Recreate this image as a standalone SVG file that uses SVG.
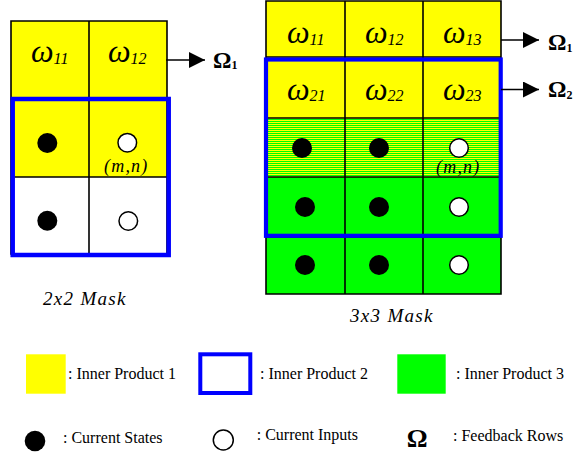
<svg xmlns="http://www.w3.org/2000/svg" width="581" height="457" viewBox="0 0 581 457">
<style>
.y{fill:#ffff00}
.g{fill:#00ff00}
.w{fill:#ffffff}
.gl{stroke:#000;stroke-width:1.6;fill:none}
.bl{stroke:#0000ff;fill:none}
.dot{fill:#000}
.in{fill:#fff;stroke:#000;stroke-width:1.5}
.om{font-family:"Liberation Serif","Times New Roman",serif;font-style:italic;font-size:32px;fill:#000}
.sub{font-family:"Liberation Serif","Times New Roman",serif;font-style:italic;font-size:16px}
.mn{font-family:"Liberation Serif","Times New Roman",serif;font-style:italic;font-size:18px;fill:#000;letter-spacing:1.2px}
.cap{font-family:"Liberation Serif","Times New Roman",serif;font-style:italic;font-size:19px;fill:#000;letter-spacing:1.3px}
.OM{font-family:"Liberation Serif","Times New Roman",serif;font-weight:bold;font-size:23px;fill:#000}
.OMs{font-size:12px}
.lg{font-family:"Liberation Serif","Times New Roman",serif;font-size:16px;fill:#000}
.arr{stroke:#000;stroke-width:1.5;fill:none}
.stripe{stroke:#00ff00;stroke-width:1;fill:none}
</style>
<defs>
<marker id="ah" markerUnits="userSpaceOnUse" markerWidth="18" markerHeight="18" refX="16" refY="8" orient="auto">
<path d="M0,0 L16,8 L0,16 Z" fill="#000"/>
</marker>
</defs>

<g id="mask2x2">
<rect class="y" x="11" y="21" width="156" height="156"/>
<rect class="w" x="11" y="177" width="156" height="77"/>
<path class="gl" d="M11,21 H167 V254 H11 Z M89,21 V254 M11,98 H167 M11,177 H167"/>
<text class="om" x="31" y="62">ω<tspan class="sub" dy="1.5">11</tspan></text>
<text class="om" x="108" y="62">ω<tspan class="sub" dy="1.5">12</tspan></text>
<circle class="dot" cx="47.3" cy="143" r="10"/>
<circle class="in" cx="127.3" cy="142.7" r="9.3"/>
<text class="mn" x="104" y="171.5">(m,n)</text>
<circle class="dot" cx="47.3" cy="220.7" r="10"/>
<circle class="in" cx="128.3" cy="221" r="9.3"/>
<rect class="bl" x="12.7" y="99" width="156" height="156" stroke-width="4.5"/>
<text class="cap" x="43" y="305">2x2 Mask</text>
</g>

<g id="mask3x3">
<rect class="y" x="266" y="1" width="235" height="176"/>
<path class="stripe" d="M266,119.5h235M266,121.5h235M266,123.5h235M266,125.5h235M266,127.5h235M266,129.5h235M266,131.5h235M266,133.5h235M266,135.5h235M266,137.5h235M266,139.5h235M266,141.5h235M266,143.5h235M266,145.5h235M266,147.5h235M266,149.5h235M266,151.5h235M266,153.5h235M266,155.5h235M266,157.5h235M266,159.5h235M266,161.5h235M266,163.5h235M266,165.5h235M266,167.5h235M266,169.5h235M266,171.5h235M266,173.5h235M266,175.5h235"/>
<rect class="g" x="266" y="177" width="235" height="117"/>
<path class="gl" d="M266,1 H501 V294 H266 Z M345,1 V294 M423,1 V294 M266,57 H501 M266,237 H501"/>
<path class="gl" stroke-width="2.2" d="M266,118 H501 M266,177 H501"/>
<text class="om" x="287" y="43">ω<tspan class="sub" dy="1.5">11</tspan></text>
<text class="om" x="365" y="43">ω<tspan class="sub" dy="1.5">12</tspan></text>
<text class="om" x="443" y="43">ω<tspan class="sub" dy="1.5">13</tspan></text>
<text class="om" x="287" y="99.5">ω<tspan class="sub" dy="1.5">21</tspan></text>
<text class="om" x="365" y="99.5">ω<tspan class="sub" dy="1.5">22</tspan></text>
<text class="om" x="443" y="99.5">ω<tspan class="sub" dy="1.5">23</tspan></text>
<circle class="dot" cx="302" cy="148" r="10"/>
<circle class="dot" cx="379" cy="148" r="10"/>
<circle class="in" cx="459" cy="148" r="9.3"/>
<text class="mn" x="436" y="172.5" fill="#1a2a1a">(m,n)</text>
<circle class="dot" cx="305" cy="207" r="10"/>
<circle class="dot" cx="379" cy="207" r="10"/>
<circle class="in" cx="459" cy="207" r="9.3"/>
<circle class="dot" cx="305" cy="265" r="10"/>
<circle class="dot" cx="379" cy="265" r="10"/>
<circle class="in" cx="459" cy="265" r="9.3"/>
<rect class="bl" x="266" y="59.5" width="234.7" height="176.3" stroke-width="4.2"/>
<text class="cap" x="350" y="322">3x3 Mask</text>
</g>

<g id="omega-labels">
<text class="OM" x="213" y="68">Ω<tspan class="OMs" dy="1">1</tspan></text>
<text class="OM" x="548" y="50">Ω<tspan class="OMs" dy="1.5">1</tspan></text>
<text class="OM" x="548" y="97">Ω<tspan class="OMs" dy="1.5">2</tspan></text>
</g>

<g id="connectors">
<line class="arr" x1="166" y1="60" x2="205" y2="60" marker-end="url(#ah)"/>
<line class="arr" x1="501" y1="40" x2="539" y2="40" marker-end="url(#ah)"/>
<line class="arr" x1="501" y1="89.5" x2="539" y2="89.5" marker-end="url(#ah)"/>
</g>

<g id="legend-ip1">
<rect class="y" x="26" y="354.3" width="39.7" height="39.4"/>
<text class="lg" x="68" y="379">: Inner Product 1</text>
</g>
<g id="legend-ip2">
<rect x="200.3" y="354.3" width="50" height="38.7" fill="#fff" stroke="#0000ff" stroke-width="4"/>
<text class="lg" x="260" y="379">: Inner Product 2</text>
</g>
<g id="legend-ip3">
<rect class="g" x="397.3" y="354.3" width="48.4" height="39.4"/>
<text class="lg" x="456" y="379">: Inner Product 3</text>
</g>
<g id="legend-states">
<circle class="dot" cx="35" cy="441" r="10.3"/>
<text class="lg" x="63" y="443.3">: Current States</text>
</g>
<g id="legend-inputs">
<circle class="in" cx="223.3" cy="440" r="10"/>
<text class="lg" x="256.7" y="440">: Current Inputs</text>
</g>
<g id="legend-feedback">
<text class="OM" x="406.7" y="446.7" style="font-size:26px">Ω</text>
<text class="lg" x="453" y="441">: Feedback Rows</text>
</g>
</svg>
